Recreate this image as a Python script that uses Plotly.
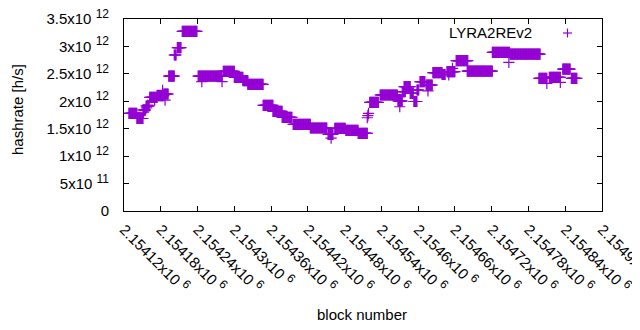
import plotly.graph_objects as go

# ---- data ----
# constant-hashrate runs: first block, last block, hashrate [h/s] (x1e12)
seg_start = [2154128, 2154141, 2154151, 2154156, 2154162, 2154174, 2154185, 2154193, 2154202,
             2154207, 2154215, 2154241, 2154282, 2154300, 2154314, 2154322, 2154347, 2154363,
             2154378, 2154396, 2154424, 2154453, 2154464, 2154482, 2154502, 2154521, 2154538,
             2154567, 2154574, 2154577, 2154587, 2154593, 2154598, 2154603, 2154613, 2154624,
             2154639, 2154647, 2154662, 2154680, 2154721, 2154750, 2154797, 2154814, 2154836,
             2154850]
seg_end = [2154141, 2154151, 2154155, 2154161, 2154174, 2154185, 2154192, 2154202, 2154205,
           2154213, 2154239, 2154280, 2154300, 2154314, 2154322, 2154347, 2154363, 2154378,
           2154394, 2154424, 2154451, 2154461, 2154481, 2154502, 2154517, 2154535, 2154566,
           2154574, 2154579, 2154587, 2154592, 2154598, 2154601, 2154611, 2154623, 2154639,
           2154644, 2154660, 2154681, 2154721, 2154749, 2154799, 2154810, 2154832, 2154848,
           2154859]
seg_value = [1.781, 1.686, 1.841, 1.914, 2.073, 2.105, 2.133, 2.457, 2.844,
             2.977, 3.276, 2.457, 2.547, 2.437, 2.375, 2.310, 1.927, 1.817,
             1.708, 1.580, 1.513, 1.395, 1.508, 1.471, 1.416, 1.981, 2.115,
             2.005, 2.175, 2.266, 2.146, 1.996, 2.206, 2.357, 2.297, 2.521,
             2.488, 2.539, 2.743, 2.548, 2.893, 2.858, 2.419, 2.437, 2.585,
             2.419]

# individual outlying blocks
pt_block = [2154152, 2154154, 2154157, 2154159, 2154170, 2154183, 2154187, 2154247, 2154280,
            2154458, 2154517, 2154518, 2154519, 2154570, 2154616, 2154650, 2154656, 2154748,
            2154810, 2154832]
pt_value = [1.80, 1.84, 1.88, 1.93, 2.02, 2.20, 2.02, 2.357, 2.357,
            1.33, 1.70, 1.74, 1.78, 1.90, 2.19, 2.48, 2.60, 2.711,
            2.328, 2.346]

series_name = "LYRA2REv2"
x_tickvals = [2154120 + 60 * i for i in range(14)]
x_ticktext = ["2.15412", "2.15418", "2.15424", "2.1543", "2.15436", "2.15442", "2.15448",
              "2.15454", "2.1546", "2.15466", "2.15472", "2.15478", "2.15484", "2.1549"]
y_tickvals = [0, 0.5e12, 1e12, 1.5e12, 2e12, 2.5e12, 3e12, 3.5e12]
y_mant = ["0", "5", "1", "1.5", "2", "2.5", "3", "3.5"]
y_exp = ["", "11", "12", "12", "12", "12", "12", "12"]

# ---- build points ----
xs, ys = [], []
for s, e, v in zip(seg_start, seg_end, seg_value):
    for b in range(s, e + 1):
        xs.append(b)
        ys.append(v * 1e12)
for b, v in zip(pt_block, pt_value):
    xs.append(b)
    ys.append(v * 1e12)

COLOR = "#9400D3"
FONT = "Liberation Sans, Arial, sans-serif"
FS = 15


def sci(m, e):
    if not e:
        return m
    return f"{m}x10 <sup><span style='font-size:12px'>{e}</span></sup>"


fig = go.Figure()
fig.add_trace(go.Scatter(
    x=xs, y=ys, mode="markers", name=series_name, showlegend=False,
    marker=dict(symbol="cross-thin", size=8, line=dict(color=COLOR, width=1.2), color=COLOR),
))

# page is offset by the 8px default body margin; compensate
OFF = 8
W, H = 640, 330
L, R, T, B = 124 - OFF, 38 + OFF, 19 - OFF, 119 + OFF
pw, ph = W - L - R, H - T - B


def px(xp):
    return (xp - OFF - L) / pw


def py(yp):
    return (H - B - (yp - OFF)) / ph


fig.update_layout(
    width=W, height=H,
    margin=dict(l=L, r=R, t=T, b=B, pad=0),
    paper_bgcolor="white", plot_bgcolor="white",
    font=dict(family=FONT, size=FS, color="black"),
    showlegend=False,
    xaxis=dict(
        range=[2154120, 2154900], showgrid=False, zeroline=False, automargin=False,
        showline=True, linecolor="black", linewidth=1, mirror="ticks",
        ticks="inside", ticklen=5, tickcolor="black",
        tickvals=x_tickvals,
        ticktext=[sci(t, "6") for t in x_ticktext],
        tickangle=45, ticklabelstandoff=3, ticklabeloverflow="allow",
        tickfont=dict(family=FONT, size=FS, color="black"),
    ),
    yaxis=dict(
        range=[0, 3.5e12], showgrid=False, zeroline=False, automargin=False,
        showline=True, linecolor="black", linewidth=1, mirror="ticks",
        ticks="inside", ticklen=5, tickcolor="black",
        tickvals=y_tickvals,
        ticktext=[sci(m, e) for m, e in zip(y_mant, y_exp)],
        ticklabelstandoff=11, ticklabeloverflow="allow",
        tickfont=dict(family=FONT, size=FS, color="black"),
    ),
    annotations=[
        dict(text="block number", xref="paper", yref="paper",
             x=px(362), y=py(314), xanchor="center", yanchor="middle",
             showarrow=False, font=dict(size=FS)),
        dict(text="hashrate [h/s]", xref="paper", yref="paper",
             x=px(17), y=py(110), xanchor="center", yanchor="middle",
             textangle=-90, showarrow=False, font=dict(size=FS)),
        dict(text=series_name, xref="paper", yref="paper",
             x=px(534), y=py(33), xanchor="right", yanchor="middle",
             showarrow=False, font=dict(size=FS)),
    ],
    shapes=[
        dict(type="line", xref="paper", yref="paper",
             x0=px(563), x1=px(572), y0=py(33), y1=py(33),
             line=dict(color=COLOR, width=1.2)),
        dict(type="line", xref="paper", yref="paper",
             x0=px(567.5), x1=px(567.5), y0=py(28.5), y1=py(37.5),
             line=dict(color=COLOR, width=1.2)),
    ],
)

fig.write_html("out.html")
